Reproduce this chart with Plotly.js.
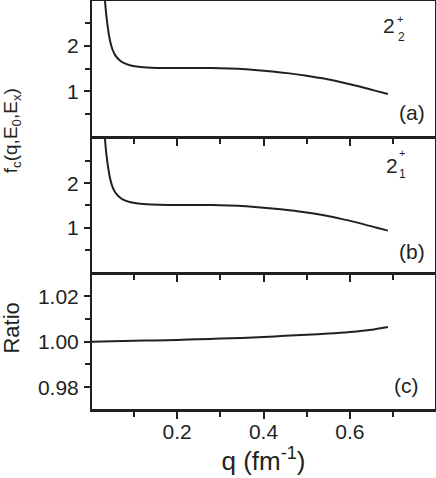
<!DOCTYPE html>
<html>
<head>
<meta charset="utf-8">
<script src="https://cdn.plot.ly/plotly-3.0.1.min.js"></script>
<style>
body { margin: 0; background: #fff; }
#plot { width: 436px; height: 478px; }
</style>
</head>
<body>
<div id="plot"></div>
<script>
// momentum transfer q (fm^-1) for the form factor panels
var qFc = [0.030, 0.033, 0.036, 0.040, 0.045, 0.050, 0.057, 0.065, 0.075, 0.090, 0.110, 0.140, 0.180,
           0.220, 0.260, 0.300, 0.340, 0.380, 0.420, 0.460, 0.500, 0.540, 0.580, 0.620, 0.660, 0.688];
// panel (a): 2_2+ state
var fc22 = [3.40, 3.00, 2.68, 2.38, 2.10, 1.93, 1.79, 1.70, 1.63, 1.575, 1.54, 1.52, 1.515,
            1.515, 1.515, 1.51, 1.495, 1.47, 1.435, 1.395, 1.345, 1.28, 1.20, 1.11, 1.01, 0.94];
// panel (b): 2_1+ state
var fc21 = [3.40, 3.00, 2.68, 2.38, 2.10, 1.93, 1.79, 1.70, 1.63, 1.575, 1.54, 1.52, 1.51,
            1.51, 1.51, 1.505, 1.49, 1.465, 1.43, 1.39, 1.34, 1.275, 1.195, 1.105, 1.00, 0.93];
// panel (c): ratio
var qRatio = [0.003, 0.05, 0.10, 0.15, 0.20, 0.25, 0.30, 0.35, 0.40, 0.45, 0.50, 0.55, 0.60, 0.65, 0.688];
var ratio = [1.0000, 1.0002, 1.0004, 1.0006, 1.0008, 1.0011, 1.0014, 1.0017, 1.0021, 1.0026,
             1.0031, 1.0036, 1.0043, 1.0053, 1.0065];

var qTicks = [0.2, 0.4, 0.6];
var qMinor = [0.1, 0.3, 0.5, 0.7];
var fcTicks = [1, 2];
var fcMinor = [0.5, 1.5, 2.5];
var ratioTicks = [0.98, 1.00, 1.02];
var ratioLabels = ['0.98', '1.00', '1.02'];
var ratioMinor = [0.99, 1.01];

var ink = '#231f20';
var lineStyle = {color: ink, width: 2, shape: 'spline', smoothing: 0.6};

var data = [
    {x: qFc, y: fc22, xaxis: 'x3', yaxis: 'y3', mode: 'lines', line: lineStyle},
    {x: qFc, y: fc21, xaxis: 'x2', yaxis: 'y2', mode: 'lines', line: lineStyle},
    {x: qRatio, y: ratio, xaxis: 'x', yaxis: 'y', mode: 'lines', line: lineStyle}
];

// frame line of the x axes; panels leave a gap of that size so shared borders coincide
var frameW = 3;
var gap = frameW / 408;

function xAxis(anchor, labels) {
    return {
        anchor: anchor,
        domain: [0, 1],
        range: [0.003, 0.797],
        tickmode: 'array',
        tickvals: qTicks,
        ticktext: qTicks.map(function (v) { return v.toFixed(1); }),
        showticklabels: labels,
        ticks: 'outside', ticklen: 7, tickwidth: 2, tickcolor: ink,
        minor: {tickmode: 'array', tickvals: qMinor, ticks: 'outside', ticklen: 5, tickwidth: 2, tickcolor: ink},
        showline: true, linewidth: frameW, linecolor: ink, mirror: true,
        showgrid: false, zeroline: false
    };
}

function yAxis(anchor, domain, range, vals, text, minorVals) {
    return {
        anchor: anchor,
        domain: domain,
        range: range,
        tickmode: 'array',
        tickvals: vals,
        ticktext: text,
        ticks: 'outside', ticklen: 6, tickwidth: 2, tickcolor: ink,
        ticklabelstandoff: 1,
        minor: {tickmode: 'array', tickvals: minorVals, ticks: 'outside', ticklen: 5, tickwidth: 2, tickcolor: ink},
        showline: true, linewidth: 2, linecolor: ink, mirror: true,
        showgrid: false, zeroline: false
    };
}

var xBottom = xAxis('y', true);
xBottom.ticklabelstandoff = -5;
xBottom.title = {text: 'q (fm<sup>-1</sup>)', font: {size: 26}, standoff: 3};

function note(text, x, y, size, angle) {
    return {text: text, xref: 'paper', yref: 'paper', x: x, y: y, xanchor: 'center', yanchor: 'middle',
            showarrow: false, font: {size: size}, textangle: angle || 0};
}

var layout = {
    width: 436,
    height: 478,
    margin: {l: 92, r: 1, t: 1, b: 69},
    paper_bgcolor: '#fff',
    plot_bgcolor: '#fff',
    showlegend: false,
    font: {family: 'Liberation Sans, Arial, sans-serif', size: 21, color: ink},
    xaxis: xBottom,
    xaxis2: xAxis('y2', false),
    xaxis3: xAxis('y3', false),
    yaxis: yAxis('x', [0, 1 / 3 - gap / 2], [0.9704, 1.0296], ratioTicks, ratioLabels, ratioMinor),
    yaxis2: yAxis('x2', [1 / 3 + gap / 2, 2 / 3 - gap / 2], [0.007, 3.01], fcTicks, ['1', '2'], fcMinor),
    yaxis3: yAxis('x3', [2 / 3 + gap / 2, 1], [0.03, 2.985], fcTicks, ['1', '2'], fcMinor),
    annotations: [
        note('f<sub>c</sub>(q,E<sub>0</sub>,E<sub>x</sub>)', -0.233, 0.681, 19, -90),
        note('Ratio', -0.234, 0.199, 22, -90),
        note('(a)', 0.933, 0.7255, 21),
        note('(b)', 0.933, 0.385, 21),
        note('(c)', 0.9155, 0.0564, 21),
        note('2', 0.8673, 0.940, 21),
        note('+', 0.8979, 0.9559, 11),
        note('2', 0.9009, 0.9118, 12),
        note('2', 0.8732, 0.598, 21),
        note('+', 0.9038, 0.6275, 11),
        note('1', 0.9038, 0.576, 12)
    ]
};

Plotly.newPlot('plot', data, layout, {displayModeBar: false, staticPlot: true});
</script>
</body>
</html>
